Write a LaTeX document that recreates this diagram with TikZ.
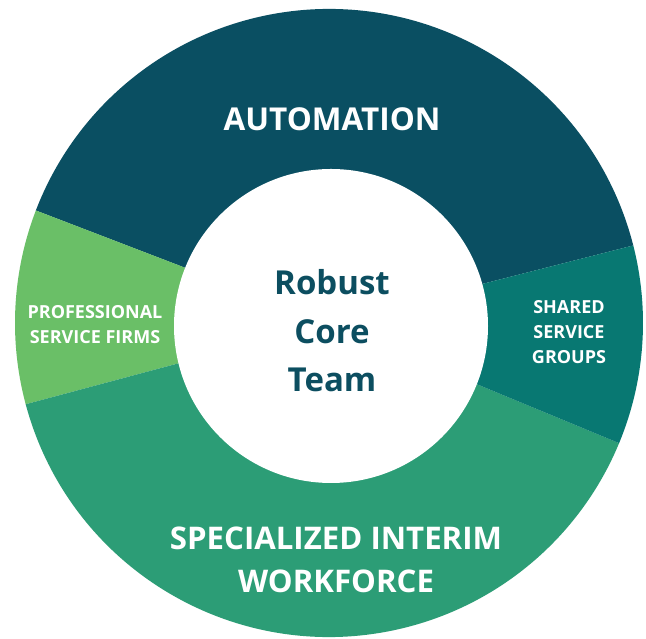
\documentclass[tikz,border=0pt]{standalone}
\usepackage{fontspec}
\setmainfont{Open Sans}
\definecolor{autoC}{RGB}{10,79,98}
\definecolor{sharedC}{RGB}{8,120,114}
\definecolor{specC}{RGB}{44,157,118}
\definecolor{profC}{RGB}{106,191,103}
\definecolor{coreC}{RGB}{12,78,96}
\tikzset{
  seglabel/.style={text=white, font=\bfseries, align=center, inner sep=0pt},
  corelabel/.style={text=coreC, font=\bfseries\fontsize{33}{48.5}\selectfont, align=center, inner sep=0pt},
}
\begin{document}
\begin{tikzpicture}[x=1pt,y=1pt]
\useasboundingbox (0,0) rectangle (646,639);
\fill[white] (0,0) rectangle (646,639);
\coordinate (C) at (329,316);
\coordinate (Ci) at (331,313);
\def\R{314}
\fill[autoC] (C) -- ++(14.3:\R) arc[start angle=14.3, end angle=159, radius=\R] -- cycle;
\fill[profC] (C) -- ++(159:\R) arc[start angle=159, end angle=195, radius=\R] -- cycle;
\fill[specC] (C) -- ++(195:\R) arc[start angle=195, end angle=337.5, radius=\R] -- cycle;
\fill[sharedC] (C) -- ++(-22.5:\R) arc[start angle=-22.5, end angle=14.3, radius=\R] -- cycle;
\fill[white] (Ci) circle[radius=157];
\node[seglabel, font=\bfseries\fontsize{31.5}{43}\selectfont] (auto) at (332,520) {AUTOMATION};
\node[corelabel] (core) at (332,308) {Robust\\Core\\Team};
\node[seglabel, font=\bfseries\fontsize{18}{25}\selectfont] (prof) at (95,314.5) {PROFESSIONAL\\SERVICE FIRMS};
\node[seglabel, font=\bfseries\fontsize{18}{25}\selectfont] (shared) at (569,307) {SHARED\\SERVICE\\GROUPS};
\node[seglabel, font=\bfseries\fontsize{31.2}{43}\selectfont] (spec) at (336,79.5) {SPECIALIZED INTERIM\\WORKFORCE};
\end{tikzpicture}
\end{document}
